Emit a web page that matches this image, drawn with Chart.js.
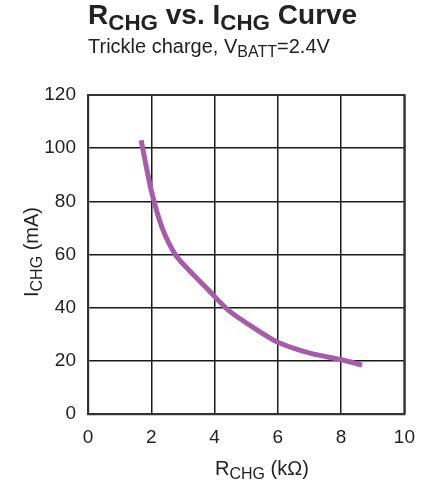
<!DOCTYPE html>
<html>
<head>
<meta charset="utf-8">
<script src="https://cdn.jsdelivr.net/npm/chart.js@4"></script>
<style>
  body { margin: 0; background: #fff; font-family: "Liberation Sans", Arial, sans-serif; color: #222; }
  #wrap { position: relative; width: 427px; height: 485px; }
  #chart { position: absolute; left: 0; top: 0; }
  .txt { position: absolute; white-space: nowrap; line-height: 1; }
  .txt sub { font-size: 0.8em; vertical-align: -0.25em; line-height: 0; }
  #title { left: 88px; top: 1px; font-size: 28px; font-weight: bold; }
  #subtitle { left: 88px; top: 36px; font-size: 20px; }
  #xtitle { left: 215px; top: 458px; font-size: 20px; }
  #ytitle { left: 31px; top: 252px; font-size: 20px; transform: translate(-50%, -50%) rotate(-90deg); }
</style>
</head>
<body>
<div id="wrap">
  <canvas id="chart" width="427" height="485"></canvas>
  <div class="txt" id="title">R<sub>CHG</sub> vs. I<sub>CHG</sub> Curve</div>
  <div class="txt" id="subtitle">Trickle charge, V<sub>BATT</sub>=2.4V</div>
  <div class="txt" id="xtitle">R<sub>CHG</sub> (kΩ)</div>
  <div class="txt" id="ytitle">I<sub>CHG</sub> (mA)</div>
</div>
<script>
// R_CHG (kOhm) vs I_CHG (mA)
const rchg = [1.68, 2.0, 2.35, 2.77, 3.24, 3.81, 4.44, 5.27, 6.0, 7.04, 7.98, 8.66];
const ichg = [103, 84, 69.8, 59.8, 53.5, 46.6, 39, 32.2, 27, 22.8, 20.5, 18.4];
const xTicks = [0, 2, 4, 6, 8, 10];
const yTicks = [0, 20, 40, 60, 80, 100, 120];

const ctx = document.getElementById('chart').getContext('2d');
new Chart(ctx, {
    type: 'scatter',
    data: {
        datasets: [{
            data: rchg.map((r, i) => ({x: r, y: ichg[i]})),
            showLine: true,
            borderColor: '#a65ca9',
            borderWidth: 5,
            pointRadius: 0,
            tension: 0.25,
            fill: false
        }]
    },
    options: {
        responsive: false,
        animation: false,
        layout: { padding: { left: 0, top: 95, right: 19, bottom: 0 } },
        plugins: { legend: { display: false }, tooltip: { enabled: false } },
        scales: {
            x: {
                type: 'linear',
                min: 0, max: 10,
                afterFit: s => { s.height = 71; },
                afterBuildTicks: s => { s.ticks = xTicks.map(v => ({value: v})); },
                grid: { color: '#1a1a1a', lineWidth: 1.5, drawTicks: false },
                border: { color: '#333', width: 2.2 },
                ticks: { color: '#222', font: { family: 'Liberation Sans', size: 19 }, padding: 12 }
            },
            y: {
                min: 0, max: 120,
                afterFit: s => { s.width = 88; },
                afterBuildTicks: s => { s.ticks = yTicks.map(v => ({value: v})); },
                grid: { color: '#1a1a1a', lineWidth: 1.5, drawTicks: false },
                border: { color: '#333', width: 2.2 },
                ticks: { color: '#222', font: { family: 'Liberation Sans', size: 19 }, padding: 12 }
            }
        }
    },
    plugins: [{
        // right and top edges of the plot frame
        id: 'frame',
        afterDraw(chart) {
            const a = chart.chartArea, c = chart.ctx;
            c.save();
            c.strokeStyle = '#333';
            c.lineWidth = 2.2;
            c.beginPath();
            c.moveTo(a.left, a.top);
            c.lineTo(a.right, a.top);
            c.lineTo(a.right, a.bottom);
            c.stroke();
            c.restore();
        }
    }]
});
</script>
</body>
</html>
